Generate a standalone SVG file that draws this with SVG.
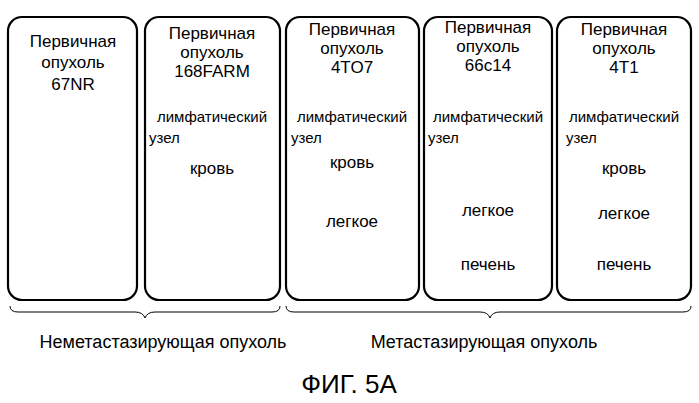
<svg xmlns="http://www.w3.org/2000/svg" width="699" height="403" viewBox="0 0 699 403">
<style>
.b{fill:#fff;stroke:#000;stroke-width:2.2}
text{font-family:"Liberation Sans",Arial,sans-serif;fill:#000;text-anchor:middle}
.t{font-size:17px}.s{font-size:15px}.l{font-size:18px}
.u{font-size:15px;text-anchor:start}
.br{fill:none;stroke:#000;stroke-width:1}
</style>
<rect width="699" height="403" fill="#fff"/>
<g id="n1"><rect class="b" x="8" y="17" width="129" height="283" rx="14"/>
<text class="t" x="73" y="47">Первичная</text><text class="t" x="73" y="68">опухоль</text><text class="t" x="73" y="90">67NR</text></g>
<g id="n2"><rect class="b" x="145" y="17" width="135" height="283" rx="14"/>
<text class="t" x="212" y="39">Первичная</text><text class="t" x="212" y="58">опухоль</text><text class="t" x="212" y="77">168FARM</text>
<text class="s" x="212" y="122">лимфатический</text><text class="u" x="149" y="143">узел</text><text class="t" x="212" y="174">кровь</text></g>
<g id="n3"><rect class="b" x="286" y="17" width="133" height="283" rx="14"/>
<text class="t" x="352" y="35">Первичная</text><text class="t" x="352" y="54">опухоль</text><text class="t" x="352" y="73">4TO7</text>
<text class="s" x="352" y="122">лимфатический</text><text class="u" x="291" y="143">узел</text><text class="t" x="352" y="168">кровь</text><text class="t" x="352" y="227">легкое</text></g>
<g id="n4"><rect class="b" x="424" y="17" width="128" height="283" rx="14"/>
<text class="t" x="488" y="33">Первичная</text><text class="t" x="488" y="52">опухоль</text><text class="t" x="488" y="71">66c14</text>
<text class="s" x="488" y="122">лимфатический</text><text class="u" x="428" y="143">узел</text><text class="t" x="488" y="216">легкое</text><text class="t" x="488" y="270">печень</text></g>
<g id="n5"><rect class="b" x="557" y="17" width="134" height="283" rx="14"/>
<text class="t" x="624" y="35">Первичная</text><text class="t" x="624" y="54">опухоль</text><text class="t" x="624" y="73">4T1</text>
<text class="s" x="624" y="122">лимфатический</text><text class="u" x="566" y="143">узел</text><text class="t" x="624" y="174">кровь</text><text class="t" x="624" y="219">легкое</text><text class="t" x="624" y="270">печень</text></g>
<g id="connectors">
<path class="br" d="M10 306 Q10 312 18 312 L135 312 Q143 312 145 318 Q147 312 155 312 L272 312 Q280 312 280 306"/>
<path class="br" d="M286 306 Q286 312 294 312 L480 312 Q488 312 490 318 Q492 312 500 312 L683 312 Q691 312 691 306"/>
</g>
<text class="l" x="163" y="348">Неметастазирующая опухоль</text>
<text class="l" x="484" y="348">Метастазирующая опухоль</text>
<text x="349" y="393" style="font-size:26px">ФИГ. 5A</text>
</svg>
